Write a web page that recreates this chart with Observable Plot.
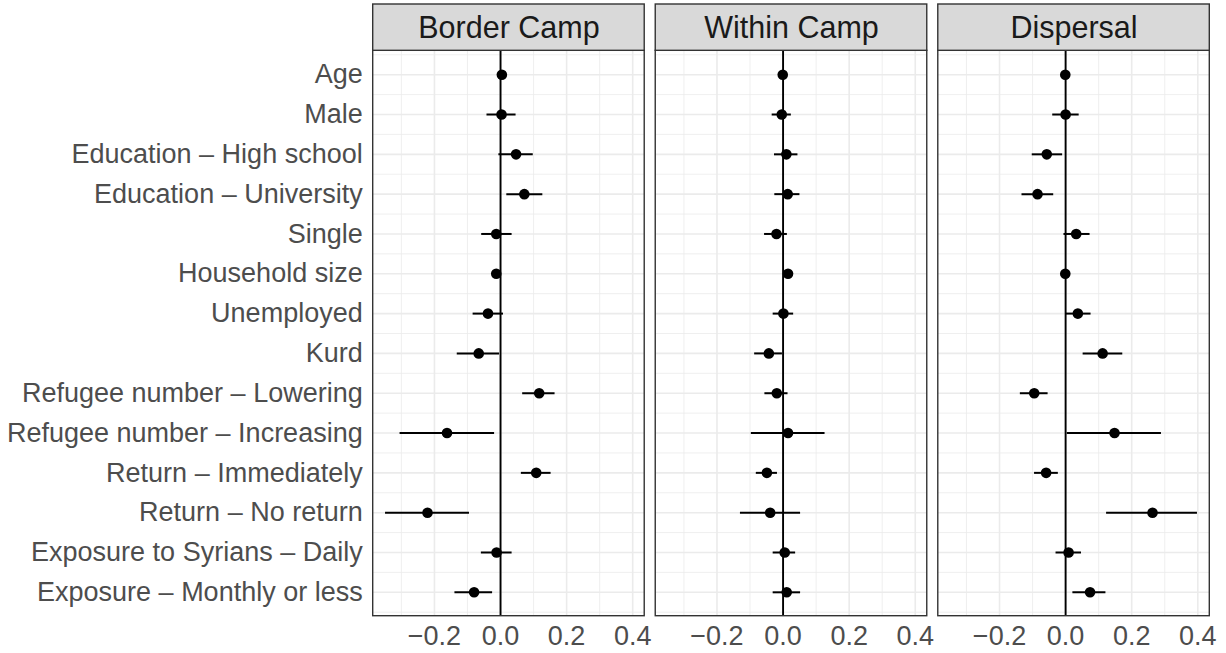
<!DOCTYPE html>
<html>
<head>
<meta charset="utf-8">
<script src="https://cdn.jsdelivr.net/npm/d3@7"></script>
<script src="https://cdn.jsdelivr.net/npm/@observablehq/plot@0.6"></script>
<style>
  html, body { margin: 0; padding: 0; background: #ffffff; }
  #chart svg { display: block; }
</style>
</head>
<body>
<div id="chart"></div>
<script>
// Model terms, top to bottom
const terms = [
  "Age",
  "Male",
  "Education – High school",
  "Education – University",
  "Single",
  "Household size",
  "Unemployed",
  "Kurd",
  "Refugee number – Lowering",
  "Refugee number – Increasing",
  "Return – Immediately",
  "Return – No return",
  "Exposure to Syrians – Daily",
  "Exposure – Monthly or less"
];

// Facets (one model per outcome)
const models = ["Border Camp", "Within Camp", "Dispersal"];

// Point estimates and 95% interval bounds, in term order
const borderEst = [0.004, 0.003, 0.047, 0.072, -0.013, -0.013, -0.038, -0.066, 0.117, -0.162, 0.108, -0.221, -0.012, -0.080];
const borderLo  = [0.000, -0.041, -0.005, 0.019, -0.057, -0.017, -0.083, -0.131, 0.067, -0.304, 0.063, -0.348, -0.058, -0.138];
const borderHi  = [0.008, 0.047, 0.099, 0.128, 0.035, -0.009, 0.009, -0.003, 0.165, -0.018, 0.153, -0.094, 0.035, -0.024];

const withinEst = [-0.001, -0.004, 0.010, 0.014, -0.020, 0.015, 0.001, -0.043, -0.019, 0.015, -0.049, -0.039, 0.005, 0.011];
const withinLo  = [-0.004, -0.033, -0.026, -0.025, -0.056, 0.011, -0.030, -0.086, -0.055, -0.096, -0.081, -0.129, -0.030, -0.030];
const withinHi  = [0.002, 0.025, 0.045, 0.051, 0.013, 0.019, 0.032, -0.002, 0.015, 0.127, -0.017, 0.053, 0.038, 0.053];

const dispEst = [-0.001, 0.000, -0.057, -0.085, 0.032, -0.001, 0.037, 0.112, -0.095, 0.148, -0.059, 0.263, 0.009, 0.074];
const dispLo  = [-0.004, -0.039, -0.101, -0.132, -0.005, -0.004, 0.000, 0.053, -0.137, 0.005, -0.094, 0.124, -0.029, 0.022];
const dispHi  = [0.002, 0.041, -0.009, -0.036, 0.074, 0.002, 0.077, 0.173, -0.053, 0.290, -0.022, 0.399, 0.048, 0.122];

// x axis breaks
const xMajor = [-0.2, 0.0, 0.2, 0.4];
const xMinor = [-0.3, -0.1, 0.1, 0.3];

// Long table built from the arrays above
const series = [
  [models[0], borderEst, borderLo, borderHi],
  [models[1], withinEst, withinLo, withinHi],
  [models[2], dispEst, dispLo, dispHi]
];
const rows = series.flatMap(([model, est, lo, hi]) =>
  terms.map((term, i) => ({model, term, idx: i, est: est[i], lo: lo[i], hi: hi[i]}))
);

// Continuous x range padded by 5% on each side; discrete y padded by 0.6 of a step
const dataMin = d3.min(rows, d => d.lo);
const dataMax = d3.max(rows, d => d.hi);
const span = dataMax - dataMin;
const xLo = dataMin - 0.05 * span;
const xHi = dataMax + 0.05 * span;
const yTop = -0.6;
const yBot = terms.length - 1 + 0.6;
const stripH = 1.163;            // strip height, in row units
const yStripTop = yTop - stripH;

const yMajor = d3.range(terms.length);
const yMinor = d3.range(terms.length + 1).map(i => i - 0.5);

const font = "'Liberation Sans', Arial, Helvetica, sans-serif";
const gridCol = "#EBEBEB";

const chart = Plot.plot({
  width: 1226,
  height: 653,
  marginLeft: 372.7,
  marginRight: 16.7,
  marginTop: 4,
  marginBottom: 37.3,
  style: {fontFamily: font, background: "#ffffff", overflow: "visible"},
  fx: {domain: models, paddingInner: 0.039, paddingOuter: 0, round: false, axis: null, label: null},
  x: {domain: [xLo, xHi], label: null},
  y: {domain: [yStripTop, yBot], reverse: true, label: null},
  marks: [
    // panel background grid
    Plot.ruleY(yMinor, {x1: xLo, x2: xHi, stroke: gridCol, strokeWidth: 0.8}),
    Plot.ruleX(xMinor, {y1: yTop, y2: yBot, stroke: gridCol, strokeWidth: 0.8}),
    Plot.ruleY(yMajor, {x1: xLo, x2: xHi, stroke: gridCol, strokeWidth: 1.6}),
    Plot.ruleX(xMajor, {y1: yTop, y2: yBot, stroke: gridCol, strokeWidth: 1.6}),
    // reference line at zero
    Plot.ruleX([0], {y1: yTop, y2: yBot, stroke: "#000000", strokeWidth: 1.9}),
    // intervals and estimates
    Plot.ruleY(rows, {fx: "model", y: "idx", x1: "lo", x2: "hi", stroke: "#000000", strokeWidth: 2}),
    Plot.dot(rows, {fx: "model", x: "est", y: "idx", r: 5.3, fill: "#000000", stroke: "none"}),
    // panel border
    Plot.rect([0], {x1: xLo, x2: xHi, y1: yTop, y2: yBot, fill: "none", stroke: "#333333", strokeWidth: 1.4}),
    // facet strips
    Plot.rect([0], {x1: xLo, x2: xHi, y1: yStripTop, y2: yTop, fill: "#D9D9D9", stroke: "#333333", strokeWidth: 1.4}),
    Plot.text(models, {fx: d => d, x: (xLo + xHi) / 2, y: (yStripTop + yTop) / 2, text: d => d,
      fontSize: 30.5, fill: "#1A1A1A", dy: 1}),
    // axes
    Plot.axisY({ticks: yMajor, tickFormat: i => terms[i], tickSize: 0, tickPadding: 10.5,
      fontSize: 27, color: "#4D4D4D", label: null}),
    Plot.axisX({ticks: xMajor, tickFormat: d3.format(".1f"), tickSize: 0, tickPadding: 10,
      fontSize: 27, color: "#4D4D4D", label: null})
  ]
});

document.getElementById("chart").appendChild(chart);
</script>
</body>
</html>
